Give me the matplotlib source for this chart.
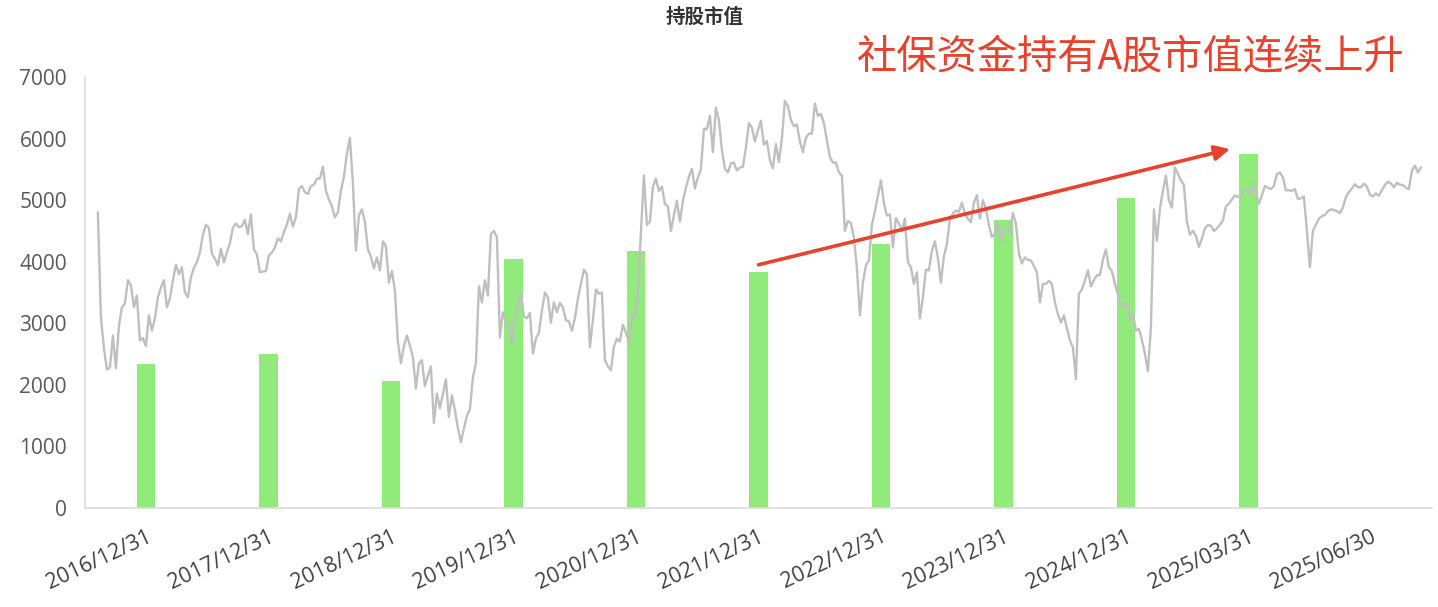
import numpy as np
import matplotlib
matplotlib.use("Agg")
import matplotlib.pyplot as plt

plt.rcParams['font.family'] = ['Noto Sans CJK SC', 'DejaVu Sans']

# ---- data ----
categories = ["2016/12/31", "2017/12/31", "2018/12/31", "2019/12/31", "2020/12/31",
              "2021/12/31", "2022/12/31", "2023/12/31", "2024/12/31", "2025/03/31",
              "2025/06/30"]
holding_value = [2345, 2507, 2058, 4046, 4170, 3830, 4290, 4678, 5035, 5748, np.nan]

# daily index-like series (grey line) at even spacing
line_values = [
    4800, 3100, 2600, 2250, 2280, 2800, 2270, 2950, 3260, 3320,
    3700, 3620, 3260, 3450, 2720, 2760, 2630, 3130, 2880, 3080,
    3420, 3580, 3700, 3260, 3400, 3700, 3950, 3800, 3910, 3500,
    3420, 3750, 3900, 3990, 4150, 4440, 4600, 4550, 4130, 4050,
    3940, 4210, 3990, 4150, 4300, 4550, 4620, 4560, 4580, 4680,
    4450, 4770, 4200, 4120, 3830, 3840, 3850, 4100, 4150, 4230,
    4380, 4330, 4480, 4600, 4780, 4570, 4720, 5180, 5230, 5130,
    5100, 5230, 5250, 5350, 5350, 5540, 5150, 5010, 4900, 4720,
    4800, 5150, 5380, 5750, 6010, 5270, 4180, 4750, 4850, 4650,
    4200, 4080, 3890, 4070, 3860, 4330, 4250, 3660, 3850, 3530,
    2700, 2350, 2630, 2800, 2640, 2450, 1940, 2350, 2400, 1980,
    2150, 2300, 1380, 1860, 1620, 1850, 2090, 1480, 1830, 1590,
    1300, 1070, 1290, 1500, 1600, 2120, 2350, 3600, 3340, 3700,
    3450, 4450, 4500, 4400, 2770, 3180, 3010, 2980, 2670, 3070,
    3300, 3500, 3110, 3080, 3170, 2510, 2750, 2850, 3200, 3500,
    3420, 3010, 3340, 3180, 3330, 3260, 3050, 3030, 2880, 3080,
    3400, 3640, 3870, 3800, 2610, 3050, 3550, 3480, 3500, 2400,
    2300, 2240, 2620, 2750, 2700, 2980, 2850, 2710, 3120, 3100,
    3530, 4460, 5400, 4600, 4650, 5220, 5350, 5150, 5220, 4940,
    4900, 4500, 4750, 4990, 4650, 4990, 5200, 5380, 5510, 5190,
    5370, 5500, 6160, 6150, 6370, 5780, 6500, 6300, 5820, 5510,
    5450, 5600, 5610, 5480, 5530, 5540, 5850, 6250, 6180, 5950,
    6130, 6290, 5900, 5960, 5650, 5520, 5910, 5620, 6000, 6610,
    6530, 6300, 6200, 6230, 5950, 5780, 6010, 6080, 6080, 6570,
    6370, 6400, 6250, 5980, 5700, 5610, 5610, 5450, 5400, 4500,
    4660, 4630, 4390, 3900, 3130, 3660, 3940, 4020, 4600, 4820,
    5070, 5320, 4950, 4750, 4770, 4230, 4710, 4620, 4500, 4700,
    3990, 3910, 3640, 3830, 3080, 3420, 3870, 3860, 4180, 4330,
    4060, 3660, 4090, 4290, 4700, 4780, 4830, 4810, 4960, 4780,
    4700, 4640, 4960, 5080, 4700, 5000, 4860, 4600, 4400, 4450,
    4640, 4340, 4490, 4550, 4470, 4790, 4620, 4130, 3970, 4070,
    4030, 4020, 3930, 3830, 3340, 3640, 3640, 3690, 3640, 3340,
    3150, 3010, 3130, 2920, 2720, 2610, 2090, 3480, 3550, 3690,
    3860, 3600, 3700, 3780, 3780, 4030, 4200, 3910, 3850, 3640,
    3470, 3300, 3280, 3330, 3050, 3160, 2880, 2910, 2730, 2510,
    2220, 2930, 4850, 4340, 4860, 5150, 5400, 5000, 4880, 5530,
    5430, 5320, 5250, 4650, 4440, 4500, 4420, 4240, 4380, 4540,
    4595, 4585, 4500, 4540, 4600, 4670, 4900, 4940, 5010, 5080,
    5050, 5070, 5150, 5170, 5100, 5270, 5100, 4940, 5080, 5230,
    5200, 5180, 5230, 5420, 5450, 5370, 5160, 5160, 5150, 5180,
    5020, 5030, 5060, 4500, 3910, 4500, 4600, 4700, 4740, 4760,
    4820, 4850, 4840, 4820, 4790, 4880, 5050, 5130, 5190, 5260,
    5210, 5210, 5270, 5220, 5090, 5060, 5110, 5070, 5160, 5245,
    5300, 5270, 5210, 5280, 5250, 5245, 5200, 5180, 5480, 5560,
    5450, 5530,
]

yticks = [0, 1000, 2000, 3000, 4000, 5000, 6000, 7000]
title = "持股市值"
note = "社保资金持有A股市值连续上升"

# ---- figure ----
fig = plt.figure(figsize=(14.38, 6.07), dpi=100)
ax = fig.add_axes([85 / 1438, 1 - 508 / 607, (1432 - 85) / 1438, (508 - 77) / 607])

x = np.arange(len(categories))
ax.bar(x, holding_value, width=0.15, color="#90EB7B", zorder=2)
ax.set_xlim(-0.5, len(categories) - 0.5)
ax.set_ylim(0, 7000)
ax.set_yticks(yticks)
ax.set_yticklabels([str(v) for v in yticks], fontfamily=["Open Sans", "DejaVu Sans"])
ax.set_xticks(x)
ax.set_xticklabels(categories, rotation=25, ha="right", rotation_mode="anchor",
                   fontfamily=["Open Sans", "DejaVu Sans"])

for s in ["top", "right"]:
    ax.spines[s].set_visible(False)
for s in ["left", "bottom"]:
    ax.spines[s].set_color("#D6DCE8")
    ax.spines[s].set_linewidth(1.2)
ax.tick_params(axis="y", length=0, pad=13, labelsize=15, labelcolor="#595959")
ax.tick_params(axis="x", length=0, pad=13, labelsize=15.5, labelcolor="#404040")

# line on its own (hidden) horizontal axis
ax2 = ax.twiny()
ax2.plot(np.arange(len(line_values)), line_values, color="#BFBFBF", lw=1.7, zorder=3)
ax2.set_xlim(-4.3, len(line_values) - 1 + 3.7)
ax2.set_ylim(0, 7000)
ax2.axis("off")

# red trend arrow (in the bar axis data coordinates)
ax2.annotate("", xy=(8.85, 5830), xycoords=ax.transData,
             xytext=(5.0, 3950), textcoords=ax.transData,
             arrowprops=dict(arrowstyle="-|>,head_length=0.9,head_width=0.45",
                             color="#E8412C", lw=2.6, shrinkA=0, shrinkB=0))

fig.text(0.490, 1 - 17 / 607, title, ha="center", va="center",
         fontsize=14, fontweight="bold", color="#333333")
fig.text(1131 / 1438, 1 - 58 / 607, note, ha="center", va="center",
         fontsize=29, color="#E8412C")

fig.savefig("out.png", dpi=100)
